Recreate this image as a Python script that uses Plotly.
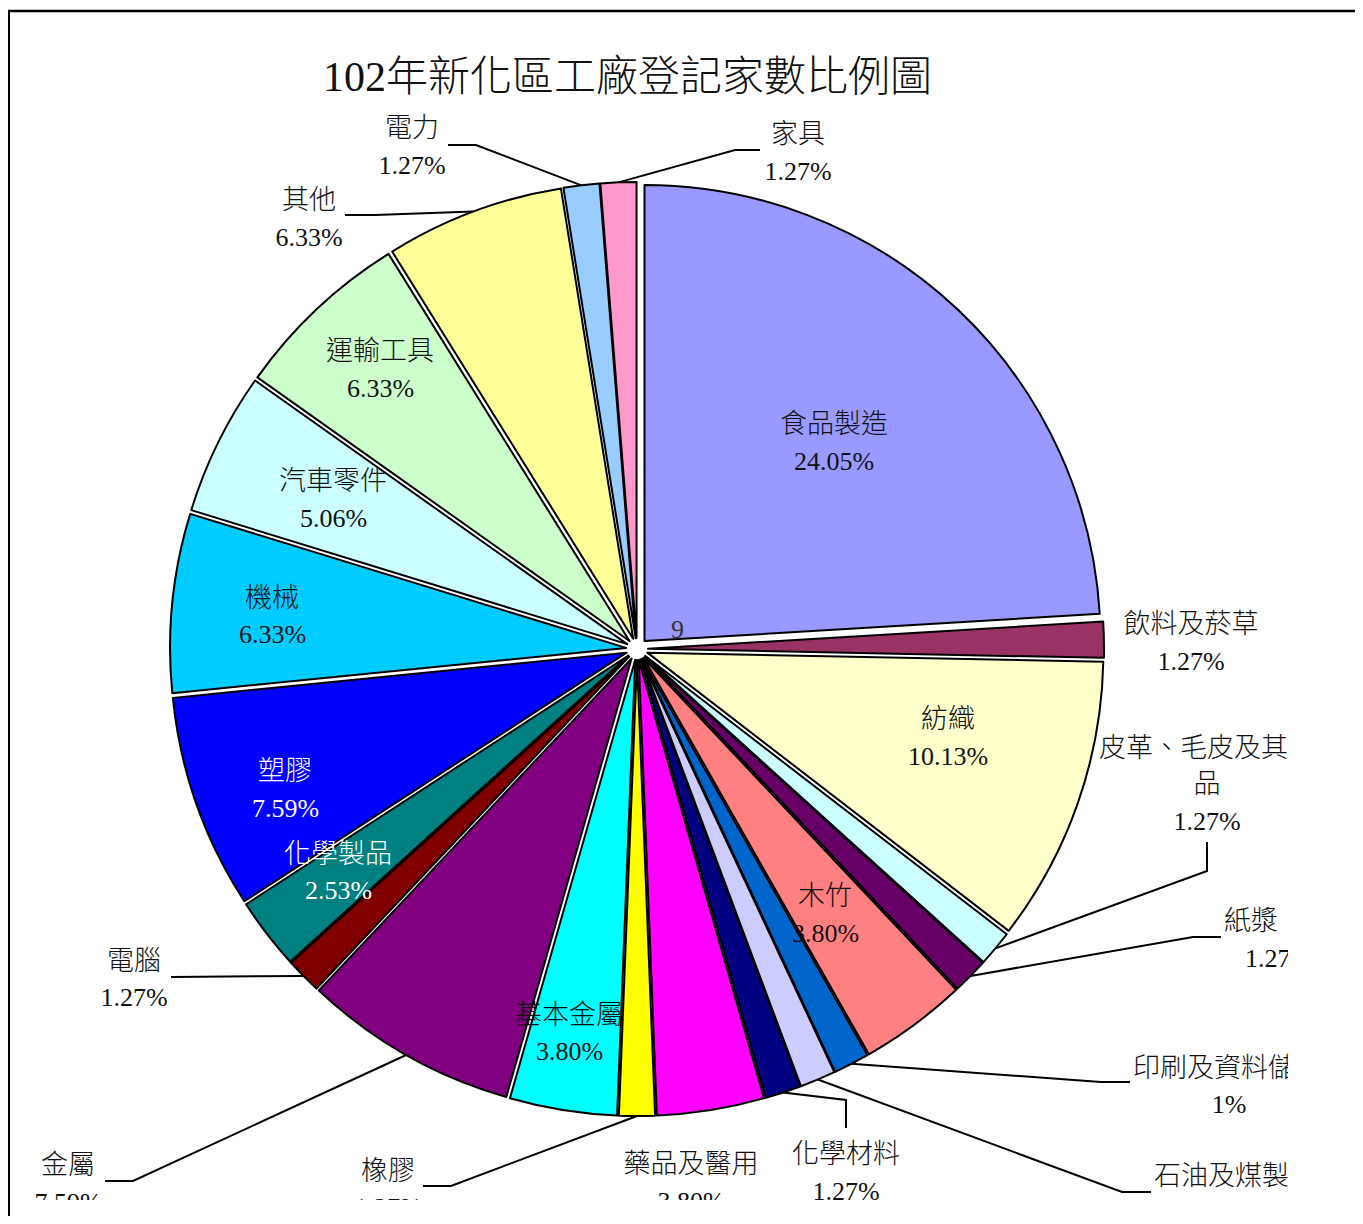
import math
import plotly.graph_objects as go

# ---------------- data ----------------
categories = ["食品製造", "飲料及菸草", "紡織", "皮革、毛皮及其製品", "紙漿、紙及紙製品",
              "木竹", "印刷及資料儲存媒體複製", "石油及煤製品", "化學材料", "藥品及醫用",
              "橡膠", "基本金屬", "金屬", "電腦", "化學製品", "塑膠", "機械", "汽車零件",
              "運輸工具", "其他", "電力", "家具"]
counts = [19, 1, 8, 1, 1, 3, 1, 1, 1, 3, 1, 3, 6, 1, 2, 6, 5, 4, 5, 5, 1, 1]
pct_text = ["24.05%", "1.27%", "10.13%", "1.27%", "1.27%", "3.80%", "1%", "1.27%",
            "1.27%", "3.80%", "1.27%", "3.80%", "7.59%", "1.27%", "2.53%", "7.59%",
            "6.33%", "5.06%", "6.33%", "6.33%", "1.27%", "1.27%"]
colors = ["#9999FF", "#993366", "#FFFFCC", "#CCFFFF", "#660066", "#FF8080", "#0066CC",
          "#CCCCFF", "#000080", "#FF00FF", "#FFFF00", "#00FFFF", "#800080", "#800000",
          "#008080", "#0000FF", "#00CCFF", "#CCFFFF", "#CCFFCC", "#FFFF99", "#99CCFF",
          "#FF99CC"]
title_text = "102年新化區工廠登記家數比例圖"
stray_text = "9"

# ---------------- layout constants (page pixels) ----------------
W, H = 1347, 1208          # figure size (page has 8px body margin)
OFF = 8
CX, CY = 637, 649          # pie centre
RO = 467                   # outer radius incl. pull
PULL = 0.024
FONT = "Liberation Serif, Noto Sans CJK TC, serif"
NAME_SIZE = 27
PCT_SIZE = 26
LINE_H = 36.5
DY = 3                     # vertical text nudge
CLIP_X = (8, 1288)
CLIP_Y = (11, 1200)


def X(px):
    return (px - OFF) / W


def Y(py):
    return 1 - (py - OFF) / H


# label placement: name (x, y, anchor), pct (x, y, anchor)
LBL = {
    0: dict(inside=True, name=(834, 421, 'c'), pct=(834, 458, 'c')),
    1: dict(inside=False, name=(1191, 623, 'c'), pct=(1191, 660, 'c')),
    2: dict(inside=True, name=(948, 716, 'c'), pct=(948, 753, 'c')),
    3: dict(inside=False, name=(1207, 747, 'c'), pct=(1207, 820, 'c'), wrap=8),
    4: dict(inside=False, name=(1224, 920, 'l'), pct=(1245, 957, 'l')),
    5: dict(inside=True, name=(825, 893, 'c'), pct=(825, 930, 'c')),
    6: dict(inside=False, name=(1133, 1067, 'l'), pct=(1229, 1103, 'c')),
    7: dict(inside=False, name=(1154, 1175, 'l'), pct=(1238, 1211, 'c')),
    8: dict(inside=False, name=(846, 1153, 'c'), pct=(846, 1190, 'c')),
    9: dict(inside=False, name=(691, 1163, 'c'), pct=(691, 1200, 'c')),
    10: dict(inside=False, name=(388, 1170, 'c'), pct=(388, 1206, 'c')),
    11: dict(inside=True, name=(569, 1012, 'c'), pct=(569, 1048, 'c')),
    12: dict(inside=False, name=(68, 1164, 'c'), pct=(68, 1201, 'c')),
    13: dict(inside=False, name=(134, 960, 'c'), pct=(134, 996, 'c')),
    14: dict(inside=True, name=(338, 851, 'c'), pct=(338, 887, 'c'), color="#FFFFFF"),
    15: dict(inside=True, name=(285, 768, 'c'), pct=(285, 805, 'c'), color="#FFFFFF"),
    16: dict(inside=True, name=(272, 595, 'c'), pct=(272, 631, 'c')),
    17: dict(inside=True, name=(333, 478, 'c'), pct=(333, 515, 'c')),
    18: dict(inside=True, name=(380, 348, 'c'), pct=(380, 385, 'c')),
    19: dict(inside=False, name=(309, 199, 'c'), pct=(309, 236, 'c')),
    20: dict(inside=False, name=(412, 127, 'c'), pct=(412, 164, 'c')),
    21: dict(inside=False, name=(798, 133, 'c'), pct=(798, 170, 'c')),
}
# leader lines: elbow point and label-side end point
LEADER = {
    3: ((1207, 871), (1207, 842)),
    4: ((1193, 937), (1221, 937)),
    6: ((1101, 1082), (1130, 1082)),
    7: ((1122, 1192), (1151, 1192)),
    8: ((846, 1100), (846, 1128)),
    10: ((451, 1186), (423, 1186)),
    12: ((133, 1181), (105, 1181)),
    13: ((200, 977), (171, 977)),
    19: ((375, 215), (345, 215)),
    20: ((476, 145), (448, 145)),
    21: ((735, 150), (760, 150)),
}

fig = go.Figure()

fig.add_trace(go.Pie(
    labels=categories, values=counts, sort=False, direction='clockwise', rotation=0,
    marker=dict(colors=colors, line=dict(color='black', width=2)),
    pull=[PULL] * len(counts), textinfo='none', hoverinfo='label+percent',
    showlegend=False,
    domain=dict(x=[X(CX - RO), X(CX + RO)], y=[Y(CY + RO), Y(CY - RO)]),
))

# leader lines computed from slice mid-angles
total = sum(counts)
cum = 0
mid_angle = []
for v in counts:
    mid_angle.append(360.0 * (cum + v / 2) / total)
    cum += v
lx, ly = [], []
for i, (elbow, end) in LEADER.items():
    a = math.radians(mid_angle[i])
    ex, ey = CX + RO * math.sin(a), CY - RO * math.cos(a)
    lx += [ex, elbow[0], end[0], None]
    ly += [ey, elbow[1], end[1], None]
fig.add_trace(go.Scatter(x=lx, y=ly, mode='lines', line=dict(color='black', width=2),
                         hoverinfo='skip', showlegend=False, cliponaxis=True))

# labels
ox, oy, ot, op = [], [], [], []
osz = []
annotations = []


def wrap(s, n):
    if not n:
        return [s]
    return [s[k:k + n] for k in range(0, len(s), n)]


for i, cat in enumerate(categories):
    spec = LBL[i]
    lines = wrap(cat, spec.get('wrap'))
    nx, ny, na = spec['name']
    items = [(nx, ny + k * LINE_H, na, ln, NAME_SIZE) for k, ln in enumerate(lines)]
    px_, py_, pa = spec['pct']
    items.append((px_, py_, pa, pct_text[i], PCT_SIZE))
    for (x, y, a, t, s) in items:
        y = y + DY
        if spec['inside']:
            annotations.append(dict(
                x=x, y=y, xref='x', yref='y', text=t, showarrow=False,
                xanchor='center' if a == 'c' else 'left', yanchor='middle',
                font=dict(size=s, color=spec.get('color', '#111111'), family=FONT,
                          weight=300)))
        else:
            ox.append(x)
            oy.append(y)
            ot.append(t)
            op.append('middle center' if a == 'c' else 'middle right')
            osz.append(s)

fig.add_trace(go.Scatter(x=ox, y=oy, text=ot, mode='text', textposition=op,
                         textfont=dict(size=osz, color='#111111', family=FONT, weight=300),
                         hoverinfo='skip', showlegend=False, cliponaxis=True))

annotations.append(dict(x=677, y=626 + DY, xref='x', yref='y', text=stray_text,
                        showarrow=False,
                        font=dict(size=PCT_SIZE, color='#333333', family=FONT)))
annotations.append(dict(x=627, y=77, xref='x', yref='y', text=title_text, showarrow=False,
                        xanchor='center', yanchor='middle',
                        font=dict(size=42, color='#111111', family=FONT, weight=300)))

shapes = [
    dict(type='line', xref='paper', yref='paper', x0=X(8), x1=1.05, y0=Y(11), y1=Y(11),
         line=dict(color='black', width=2.5)),
    dict(type='line', xref='paper', yref='paper', x0=X(9), x1=X(9), y0=Y(11), y1=-0.1,
         line=dict(color='black', width=2)),
]

fig.update_layout(
    width=W, height=H, margin=dict(l=0, r=0, t=0, b=0),
    paper_bgcolor='white', plot_bgcolor='rgba(0,0,0,0)',
    xaxis=dict(domain=[X(CLIP_X[0]), X(CLIP_X[1])], range=list(CLIP_X), visible=False,
               fixedrange=True),
    yaxis=dict(domain=[Y(CLIP_Y[1]), Y(CLIP_Y[0])], range=[CLIP_Y[1], CLIP_Y[0]],
               visible=False, fixedrange=True),
    annotations=annotations, shapes=shapes, font=dict(family=FONT),
)

fig.write_html("out.html")
